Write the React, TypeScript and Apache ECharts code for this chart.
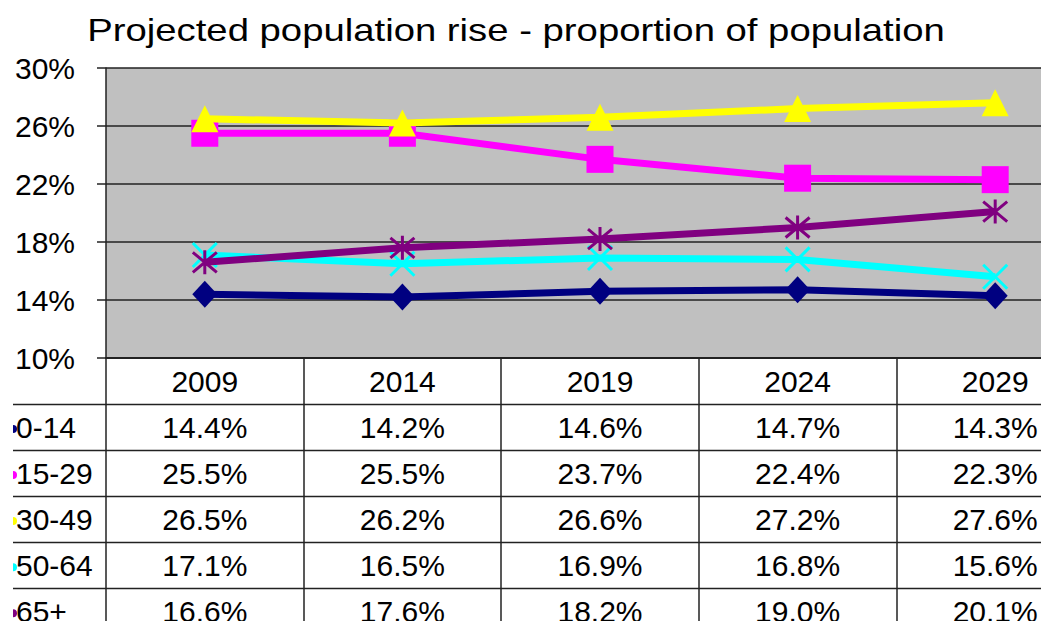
import React, { useEffect, useRef } from "react";
import * as echarts from "echarts";

const titleText = "Projected population rise - proportion of population";
const years = ["2009", "2014", "2019", "2024", "2029"];
const groups = ["0-14", "15-29", "30-49", "50-64", "65+"];
const age0_14 = [14.4, 14.2, 14.6, 14.7, 14.3];
const age15_29 = [25.5, 25.5, 23.7, 22.4, 22.3];
const age30_49 = [26.5, 26.2, 26.6, 27.2, 27.6];
const age50_64 = [17.1, 16.5, 16.9, 16.8, 15.6];
const age65plus = [16.6, 17.6, 18.2, 19.0, 20.1];
const seriesValues = [age0_14, age15_29, age30_49, age50_64, age65plus];
const colors = ["#000080", "#FF00FF", "#FFFF00", "#00FFFF", "#800080"];
const yMin = 10;
const yMax = 30;
const yStep = 4;

const FONT = "'Liberation Sans', Arial, sans-serif";

const symbols: any[] = [
  { symbol: "diamond", symbolSize: [25, 27] },
  { symbol: "rect", symbolSize: [27, 27] },
  { symbol: "triangle", symbolSize: [27, 27] },
  { symbol: "path://M0,0L10,10M10,0L0,10", symbolSize: [24, 24], stroke: 3 },
  { symbol: "path://M0,0L10,10M10,0L0,10M5,-1L5,11", symbolSize: [24, 24], stroke: 3 },
];

const CHART_W = 1100;
const CHART_H = 621;

export default function App() {
  const ref = useRef<HTMLDivElement>(null);
  useEffect(() => {
    if (!ref.current) return;
    const chart = echarts.init(ref.current, undefined, { renderer: "svg" });
    const gridLeft = 106;
    const gridTop = 68;
    const gridHeight = 290;
    const gridWidth = 988;
    const tableBottom = 621;
    chart.setOption({
      animation: false,
      backgroundColor: "#ffffff",
      grid: {
        left: gridLeft,
        top: gridTop,
        width: gridWidth,
        height: gridHeight,
        show: true,
        backgroundColor: "#C0C0C0",
        borderWidth: 0,
      },
      xAxis: {
        type: "category",
        data: years,
        boundaryGap: true,
        axisLine: { show: true, lineStyle: { color: "#222", width: 2 } },
        axisTick: {
          show: true,
          inside: false,
          length: tableBottom - (gridTop + gridHeight),
          lineStyle: { color: "#222", width: 1.5 },
        },
        axisLabel: {
          show: true,
          margin: 23,
          verticalAlign: "middle",
          fontFamily: FONT,
          fontSize: 30,
          color: "#000",
        },
        splitLine: { show: false },
      },
      yAxis: {
        type: "value",
        min: yMin,
        max: yMax,
        interval: yStep,
        axisLine: { show: true, lineStyle: { color: "#222", width: 1.5 } },
        axisTick: { show: true, length: 9, lineStyle: { color: "#222", width: 1.5 } },
        axisLabel: {
          margin: 31,
          formatter: "{value}%",
          fontFamily: FONT,
          fontSize: 30,
          color: "#000",
        },
        splitLine: { show: true, lineStyle: { color: "#222", width: 1.5 } },
      },
      series: groups.map((g, i) => ({
        name: g,
        type: "line",
        data: seriesValues[i],
        z: 2 + i,
        symbol: symbols[i].symbol,
        symbolSize: symbols[i].symbolSize,
        symbolKeepAspect: false,
        lineStyle: { color: colors[i], width: 7 },
        itemStyle: {
          color: colors[i],
          borderColor: colors[i],
          borderWidth: symbols[i].stroke || 0,
        },
        emphasis: { disabled: true },
      })),
    });

    // Build the data table under the chart from the arrays and the axis scale
    const rowH = (tableBottom - (gridTop + gridHeight) - 2) / 5.67;
    const headerTop = gridTop + gridHeight;
    const graphics: any[] = [];
    graphics.push({
      type: "text",
      x: 516,
      y: 30,
      scaleX: 1.235,
      style: {
        text: titleText,
        fontFamily: FONT,
        fontSize: 31,
        fill: "#000",
        textAlign: "center",
        textVerticalAlign: "middle",
      },
    });
    for (let r = 1; r <= 5; r++) {
      const y = Math.round(headerTop + rowH * r) + 0.5;
      graphics.push({
        type: "line",
        shape: { x1: 13, y1: y, x2: CHART_W, y2: y },
        style: { stroke: "#222", lineWidth: 1.5 },
        z: 10,
      });
    }
    groups.forEach((g, r) => {
      const cy = headerTop + rowH * (r + 1) + rowH / 2;
      graphics.push({
        type: "sector",
        shape: { cx: 13, cy: cy + 2, r: 4, startAngle: -Math.PI / 2, endAngle: Math.PI / 2 },
        style: { fill: colors[r] },
        z: 10,
      });
      graphics.push({
        type: "text",
        x: 16,
        y: cy,
        style: {
          text: g,
          fontFamily: FONT,
          fontSize: 30,
          fill: "#000",
          textAlign: "left",
          textVerticalAlign: "middle",
        },
        z: 10,
      });
      seriesValues[r].forEach((v, c) => {
        const px = chart.convertToPixel({ xAxisIndex: 0 }, years[c]) as number;
        graphics.push({
          type: "text",
          x: px,
          y: cy,
          style: {
            text: v.toFixed(1) + "%",
            fontFamily: FONT,
            fontSize: 30,
            fill: "#000",
            textAlign: "center",
            textVerticalAlign: "middle",
          },
          z: 10,
        });
      });
    });
    chart.setOption({ graphic: graphics });
    return () => chart.dispose();
  }, []);
  return (
    <div
      style={{
        position: "fixed",
        left: 0,
        top: 0,
        width: 1041,
        height: 621,
        overflow: "hidden",
        background: "#fff",
      }}
    >
      <div ref={ref} style={{ width: CHART_W, height: CHART_H }} />
    </div>
  );
}
